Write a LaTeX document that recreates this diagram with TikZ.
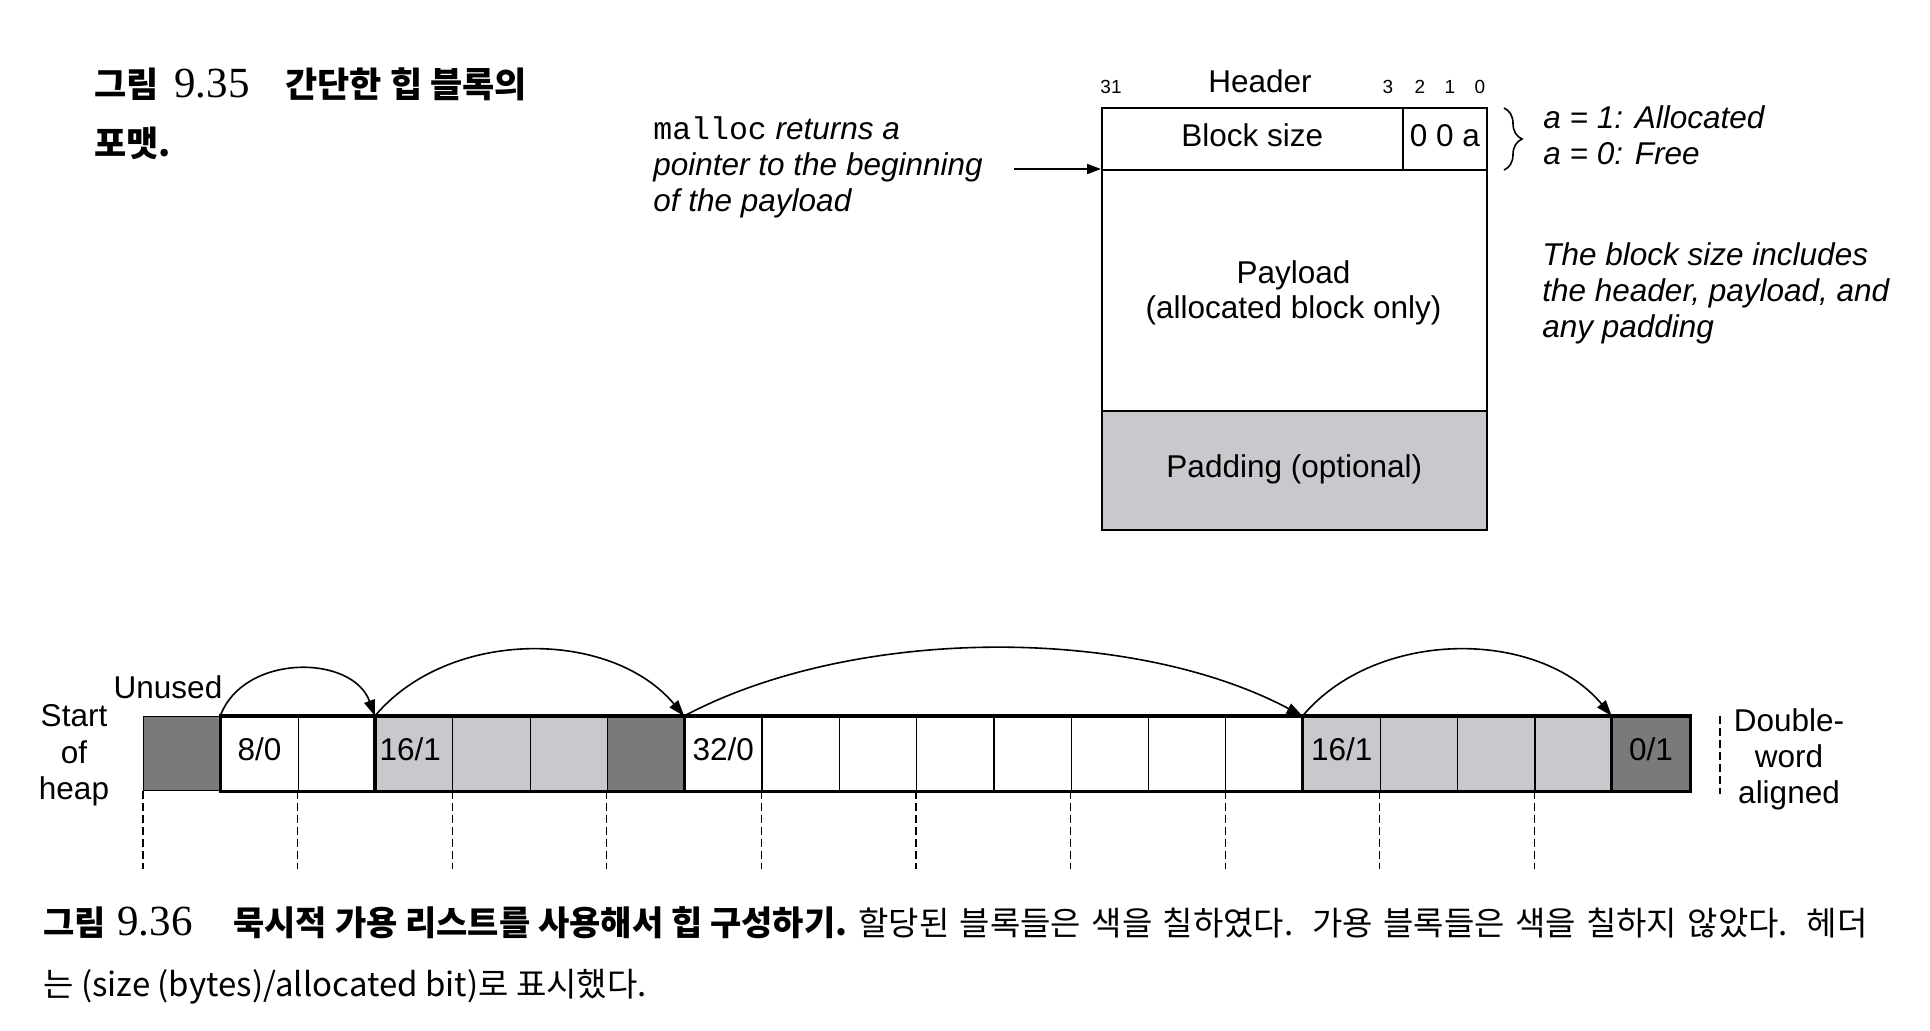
\documentclass[tikz,border=0pt]{standalone}
\usepackage{fontspec}
\setmainfont{Liberation Sans}
\setmonofont{Liberation Mono}
\newfontfamily\kr{Noto Sans CJK KR}
\newfontfamily\capnum{Liberation Serif}
\usetikzlibrary{arrows.meta,decorations.pathreplacing}
\definecolor{lgray}{RGB}{201,201,205}
\definecolor{dgray}{RGB}{122,122,125}
\begin{document}
\begin{tikzpicture}[x=0.5pt,y=0.5pt,
  txt/.style={inner sep=0pt, font=\fontsize{15.75}{18}\selectfont},
  itx/.style={inner sep=0pt, font=\fontsize{15.75}{18}\selectfont\itshape},
  bitn/.style={inner sep=0pt, font=\fontsize{9.5}{11}\selectfont},
  blk/.style={draw=black, line width=0.8pt, inner sep=0pt, anchor=north west,
    font=\fontsize{15.75}{18}\selectfont, text height=0.72em, text depth=0pt},
  cell/.style={draw=black, line width=0.6pt, minimum width=38.65pt, minimum height=37pt, inner sep=0pt, anchor=north west},
  clab/.style={inner sep=0pt, font=\fontsize{15.75}{18}\selectfont, text height=0.72em, text depth=0pt},
  frame/.style={line width=1.6pt},
  arcarrow/.style={line width=0.8pt, -{Triangle[length=8pt,width=5.5pt]}},
  ptrarrow/.style={line width=1pt, -{Triangle[length=7pt,width=5pt]}},
  guide/.style={line width=0.6pt, dash pattern=on 4pt off 2pt},
  krb/.style={inner sep=0pt, anchor=base west, font=\kr\bfseries\fontsize{17.5}{20}\selectfont},
  krbs/.style={inner sep=0pt, anchor=base west, font=\kr\bfseries\fontsize{17}{20}\selectfont},
  krr/.style={inner sep=0pt, anchor=base west, font=\kr\fontsize{16.5}{20}\selectfont},
  num/.style={inner sep=0pt, anchor=base west, font=\capnum\fontsize{21.5}{24}\selectfont}
]
\useasboundingbox (0,0) rectangle (1930,-1030);

% ---------- Figure 9.35 caption ----------
\node[krb] (c35a) at (94,-97) {그림};
\node[num] (c35n) at (174,-97) {9.35};
\node[krb] (c35b) at (285,-97) {간단한 힙 블록의};
\node[krb] (c35c) at (94,-156) {포맷.};

% ---------- block format ----------
\node[bitn, anchor=base] (b31) at (1111,-93) {31};
\node[txt, anchor=base] (hdrlbl) at (1260,-92) {Header};
\node[bitn, anchor=base] (b3) at (1388,-93) {3};
\node[bitn, anchor=base] (b2) at (1420,-93) {2};
\node[bitn, anchor=base] (b1) at (1450,-93) {1};
\node[bitn, anchor=base] (b0) at (1480,-93) {0};

\node[blk, minimum width=150.5pt, minimum height=31pt] (hsize) at (1101,-107) {Block size};
\node[blk, minimum width=42pt, minimum height=31pt] (hbits) at (1402,-107) {0 0 a};
\node[blk, minimum width=192.5pt, minimum height=120.5pt] (pay) at (1101,-169) {};
\node[txt, anchor=base] (payl1) at (1293.5,-283) {Payload};
\node[txt, anchor=base] (payl2) at (1293.5,-318) {(allocated block only)};
\node[blk, fill=lgray, minimum width=192.5pt, minimum height=59.5pt] (pad) at (1101,-410) {Padding (optional)};

\node[txt, anchor=base west] (m1) at (653,-139) {\texttt{malloc} \itshape returns a};
\node[itx, anchor=base west] (m2) at (653,-175.5) {pointer to the beginning};
\node[itx, anchor=base west] (m3) at (653,-211) {of the payload};
\coordinate (mstart) at (1014,-169);
\draw[ptrarrow] (mstart) -- (pay.north west);

\draw[line width=0.8pt, decorate, decoration={brace, amplitude=9pt}] (1504,-108) -- (1504,-170);
\node[itx, anchor=base west] (a1) at (1543,-128) {a = 1: Allocated};
\node[itx, anchor=base west] (a0) at (1543,-164) {a = 0: Free};

\node[itx, anchor=base west] (n1) at (1542,-265) {The block size includes};
\node[itx, anchor=base west] (n2) at (1542,-301) {the header, payload, and};
\node[itx, anchor=base west] (n3) at (1542,-337) {any padding};

% ---------- heap ----------
\foreach \i/\c in {0/dgray,1/white,2/white,3/lgray,4/lgray,5/lgray,6/dgray,7/white,8/white,9/white,10/white,11/white,12/white,13/white,14/white,15/lgray,16/lgray,17/lgray,18/lgray,19/dgray}
  \node[cell, fill=\c] (c\i) at ({143+77.3*\i},-716) {};

\draw[frame] (c1.north west) rectangle (c19.south east);
\foreach \i in {3,7,15,19}
  \draw[frame] (c\i.north west) -- (c\i.south west);

\node[clab] (l1) at (c1) {8/0};
\node[clab, xshift=-2pt] (l3) at (c3) {16/1};
\node[clab] (l7) at (c7) {32/0};
\node[clab] (l15) at (c15) {16/1};
\node[clab] (l19) at (c19) {0/1};

\draw[arcarrow] (c1.north west) to[out=70,in=110,looseness=1.1] (c3.north west);
\draw[arcarrow] (c3.north west) to[out=50,in=130,looseness=0.95] (c7.north west);
\draw[arcarrow] (c7.north west) to[out=28,in=152,looseness=0.8] (c15.north west);
\draw[arcarrow] (c15.north west) to[out=50,in=130,looseness=0.95] (c19.north west);

\foreach \i in {0,2,...,18}
  \draw[guide] (c\i.south west) -- ++(0,-78);

\node[txt, anchor=base] (unused) at (168,-698) {Unused};
\node[txt, anchor=base] (st1) at (74,-726) {Start};
\node[txt, anchor=base] (st2) at (74,-763) {of};
\node[txt, anchor=base] (st3) at (74,-799) {heap};

\coordinate (dwa) at (1720,-716);
\draw[guide] (dwa) -- ++(0,-78);
\node[txt, anchor=base] (dw1) at (1789,-731) {Double-};
\node[txt, anchor=base] (dw2) at (1789,-767) {word};
\node[txt, anchor=base] (dw3) at (1789,-803) {aligned};

% ---------- Figure 9.36 caption ----------
\node[krbs] (c36a) at (43,-935) {그림};
\node[num] (c36n) at (117,-935) {9.36};
\node[krbs] (c36b) at (233,-935) {묵시적 가용 리스트를 사용해서 힙 구성하기.};
\node[krr] (c36c) at (858,-935) {\makebox[504.5pt][s]{할당된 블록들은 색을 칠하였다. 가용 블록들은 색을 칠하지 않았다. 헤더}};
\node[krr] (c36d) at (43,-996) {는 (size (bytes)/allocated bit)로 표시했다.};
\end{tikzpicture}
\end{document}
